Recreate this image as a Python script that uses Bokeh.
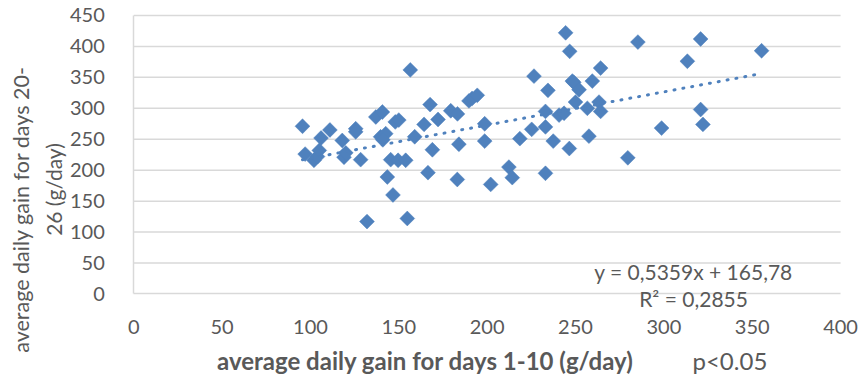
import numpy as np
from bokeh.plotting import figure
from bokeh.models import Range1d, Label, FixedTicker, ColumnDataSource
from bokeh.embed import file_html
from bokeh.resources import INLINE

# ---- data ----
gain_days_1_10 = [95.5, 97, 102, 104, 105, 106, 111, 118, 119, 120, 125.6, 125.6, 128.4, 132,
                  137, 140.7, 139.7, 142.6, 141, 143.5, 146.7, 145.4, 148, 150, 149.6, 153.9,
                  154.8, 156.5, 159, 164.3, 166.5, 167.7, 169, 172.2, 179.4, 183.2, 183.1, 184,
                  189.7, 191.5, 194.4, 198.6, 198.6, 202, 212.3, 214.2, 218.5, 225.2, 226.5, 233,
                  233, 233, 234.4, 237.4, 240.7, 243.5, 244.4, 246.5, 246.7, 248.2, 249, 250,
                  252, 256.7, 257.6, 259.5, 263.3, 264.2, 264.2, 279.6, 285.3, 298.7, 313.3,
                  320.8, 320.8, 322.1, 355.3]
gain_days_20_26 = [271, 226, 216, 222, 232, 252, 265, 248, 221, 228, 267, 262, 217, 117,
                   286, 294, 254, 259, 249, 189, 160, 217, 278, 281, 216, 216,
                   122, 362, 254, 274, 196, 306, 233, 282, 296, 291, 185, 242,
                   312, 316, 321, 275, 247, 177, 205, 188, 251, 266, 352, 295,
                   270, 195, 329, 247, 289, 292, 422, 235, 392, 344, 342, 310,
                   330, 300, 255, 344, 310, 365, 295, 220, 407, 268, 376,
                   412, 298, 274, 393]
x_ticks = [0, 50, 100, 150, 200, 250, 300, 350, 400]
y_ticks = [0, 50, 100, 150, 200, 250, 300, 350, 400, 450]
slope = 0.5359
intercept = 165.78
equation_text = "y = 0,5359x + 165,78"
r2_text = "R² = 0,2855"
x_title = "average daily gain for days 1-10 (g/day)"
y_title_1 = "average daily gain for  days 20-"
y_title_2 = "26 (g/day)"
p_text = "p<0.05"

FONT = "Lato"
GRAY = "#595959"
GRID = "#d9d9d9"
BLUE = "#4F81BD"

# the frame covers the whole canvas so that texts outside the plot area are not clipped
p = figure(width=865, height=380, output_backend="svg", toolbar_location=None,
           x_range=Range1d(-75.4, 414.1), y_range=Range1d(-139.8, 474.2),
           min_border=0)
p.outline_line_color = None
p.background_fill_color = "white"
p.border_fill_color = "white"
p.xgrid.grid_line_color = None
p.ygrid.grid_line_color = None

for ax, ticks, bounds in ((p.xaxis[0], x_ticks, (0, 400)), (p.yaxis[0], y_ticks, (0, 450))):
    ax.fixed_location = 0
    ax.bounds = bounds
    ax.ticker = FixedTicker(ticks=ticks)
    ax.major_tick_line_color = None
    ax.minor_tick_line_color = None
    ax.axis_line_color = GRID
    ax.axis_line_width = 1.5
    ax.major_label_text_font = FONT
    ax.major_label_text_font_size = "20px"
    ax.major_label_text_color = GRAY
p.xaxis.major_label_standoff = 20
p.yaxis.major_label_standoff = 23

# horizontal gridlines over the plot area
p.segment(x0=0, x1=400, y0=y_ticks[1:], y1=y_ticks[1:], line_color=GRID, line_width=1.5)

src = ColumnDataSource(dict(x=gain_days_1_10, y=gain_days_20_26))
p.scatter("x", "y", source=src, marker="square", angle=np.pi / 4, size=10.5,
          fill_color=BLUE, line_color=BLUE, line_width=0.5)

tx = np.array([min(gain_days_1_10), max(gain_days_1_10)])
p.line(tx, slope * tx + intercept, line_color=BLUE, line_width=3,
       line_dash="1 8", line_cap="round")

def lab(x, y, text, size, align="center", style="normal", angle=0.0):
    p.add_layout(Label(x=x, y=y, text=text, text_font=FONT, text_font_size=size,
                       text_color=GRAY, text_align=align, text_baseline="middle",
                       text_font_style=style, angle=angle))

lab(316.8, 37, equation_text, "21px")
lab(316.8, -8, r2_text, "21px")
lab(165.1, -107.4, x_title, "24px", style="bold")
lab(316.2, -107.4, p_text, "24px", align="left")
lab(-63.6, 141, y_title_1, "21.5px", angle=np.pi / 2)
lab(-45.5, 168.8, y_title_2, "21px", angle=np.pi / 2)

open("out.html", "w").write(file_html(p, INLINE))
